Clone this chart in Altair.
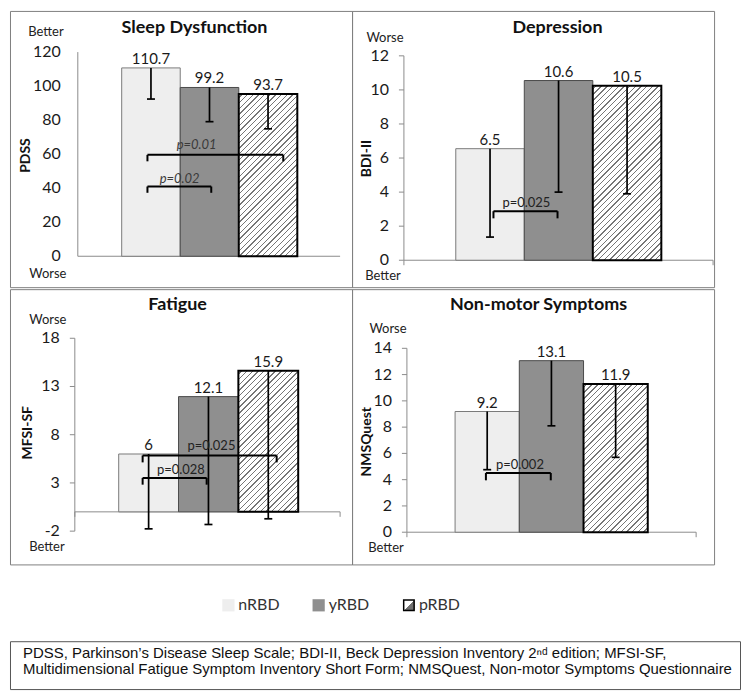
import altair as alt
import pandas as pd

# ---------------- data ----------------
groups = ["nRBD", "yRBD", "pRBD"]
bar_pos = [1, 2, 3]

sleep_mean = [110.7, 99.2, 95.3]
sleep_text = ["110.7", "99.2", "93.7"]
sleep_low = [92.4, 79.1, 74.9]
sleep_ticks = [0, 20, 40, 60, 80, 100, 120]

dep_mean = [6.55, 10.55, 10.25]
dep_text = ["6.5", "10.6", "10.5"]
dep_low = [1.36, 4.0, 3.9]
dep_ticks = [0, 2, 4, 6, 8, 10, 12]

fat_mean = [6.0, 11.95, 14.64]
fat_text = ["6", "12.1", "15.9"]
fat_low = [-1.76, -1.31, -0.72]
fat_ticks = [-2, 3, 8, 13, 18]

nms_mean = [9.19, 13.06, 11.29]
nms_text = ["9.2", "13.1", "11.9"]
nms_low = [4.76, 8.1, 5.7]
nms_ticks = [0, 2, 4, 6, 8, 10, 12, 14]

# p-value brackets (x from, x to, level, drop, label, label x, label y)
sleep_br = dict(x1=[0.94, 0.94], x2=[3.26, 2.03], y=[59.6, 41.0], yd=[55.8, 37.3],
                lab=["p=0.01", "p=0.02"], lx=[1.78, 1.49], ly=[65.2, 45.3])
dep_br = dict(x1=[1.05], x2=[1.985], y=[2.88], yd=[2.46],
              lab=["p=0.025"], lx=[1.53], ly=[3.34])
fat_br = dict(x1=[0.9, 0.9], x2=[3.14, 1.97], y=[5.85, 3.52], yd=[5.13, 2.82],
              lab=["p=0.025", "p=0.028"], lx=[2.05, 1.54], ly=[6.78, 4.37])
nms_br = dict(x1=[0.98], x2=[1.99], y=[4.51], yd=[3.95],
              lab=["p=0.002"], lx=[1.51], ly=[5.14])

caption_1 = "PDSS, Parkinson\u2019s Disease Sleep Scale; BDI-II, Beck Depression Inventory 2\u207f\u1d48 edition; MFSI-SF,"
caption_2 = "Multidimensional Fatigue Symptom Inventory Short Form; NMSQuest, Non-motor Symptoms Questionnaire"

# ---------------- style / layout ----------------
FONT = "Lato"
AXIS = "#8c8c8c"
BORDER = "#808080"
INK = "#111111"

layouts = {
    "sleep": dict(w=343, h=277, axis=68, left1=112, bw=58.7, axis_end=331, y0=246, ypu=1.706,
                  title=(185, 17), ytitle=(16, 145), top=(36, 21), bot=(38, 264),
                  ticks_on=False, lgap=17, end_ticks=False, italic=True),
    "dep": dict(w=363, h=277, axis=52, left1=104, bw=68.7, axis_end=362, y0=250, ypu=17.08,
                title=(206, 17), ytitle=(15, 148), top=(33, 27), bot=(31, 266),
                ticks_on=True, lgap=15, end_ticks=True, italic=False),
    "fat": dict(w=343, h=276, axis=65, left1=109, bw=60.0, axis_end=331, y0=223.3, ypu=9.67,
                title=(168, 16), ytitle=(18, 144), top=(38, 31), bot=(37, 259),
                ticks_on=True, lgap=15, end_ticks=True, italic=False),
    "nms": dict(w=363, h=276, axis=55, left1=103.3, bw=64.4, axis_end=345, y0=243.7, ypu=13.17,
                title=(187, 16), ytitle=(15, 153), top=(36, 40), bot=(34, 260),
                ticks_on=True, lgap=15, end_ticks=True, italic=False),
}

ANN = pd.DataFrame({"a": [0]})


def hatch(w, h, period=5.7, thick=1.35, ink="#767676", paper="#ffffff"):
    L = w + h
    stops = [{"offset": 0.0, "color": paper}]
    s = period / 2.0
    while s + thick < L:
        a = round(s / L, 5)
        b = round((s + thick) / L, 5)
        stops += [{"offset": a, "color": paper}, {"offset": a, "color": ink},
                  {"offset": b, "color": ink}, {"offset": b, "color": paper}]
        s += period
    stops.append({"offset": 1.0, "color": paper})
    k = L / (w * w + h * h)
    return {"gradient": "linear", "x1": 0, "y1": 0, "x2": round(k * w, 5),
            "y2": round(k * h, 5), "stops": stops}


def text_at(txt, xy, size, weight="normal", angle=0, color=INK):
    kw = dict(font=FONT, fontSize=size, fontWeight=weight, color=color,
              align="center", baseline="middle")
    if angle:
        kw["angle"] = angle
    return alt.Chart(ANN).mark_text(**kw).encode(
        x=alt.value(xy[0]), y=alt.value(xy[1]), text=alt.value(txt))


def panel(title, ytitle, top_word, bot_word, mean, text, low, ticks, br, lay):
    W, H, bw, ypu = lay["w"], lay["h"], lay["bw"], lay["ypu"]
    x0 = lay["left1"] - 0.5 * bw
    xs = alt.Scale(domain=[-x0 / bw, (W - x0) / bw], nice=False, zero=False)
    ys = alt.Scale(domain=[-(H - lay["y0"]) / ypu, lay["y0"] / ypu], nice=False, zero=False)
    ax = (lay["axis"] - x0) / bw
    ax_end = (lay["axis_end"] - x0) / bw

    def X(f):
        return alt.X(f"{f}:Q", scale=xs, axis=None)

    def Y(f):
        return alt.Y(f"{f}:Q", scale=ys, axis=None)

    bars = pd.DataFrame({"g": groups, "x": bar_pos, "v": mean, "t": text, "lo": low})
    bars["xl"] = bars["x"] - 0.5
    bars["xr"] = bars["x"] + 0.5
    bars["zero"] = 0.0
    cap = 4.0 / bw
    bars["cl"] = bars["x"] - cap
    bars["cr"] = bars["x"] + cap

    tk = pd.DataFrame({"tick": ticks, "lab": [str(t) for t in ticks]})
    tk["x"] = ax
    tk["xt"] = ax - 5.0 / bw

    xline = pd.DataFrame({"x": [ax], "xe": [ax_end], "y": [0.0]})
    yline = pd.DataFrame({"x": [ax], "y": [float(min(ticks))], "ye": [float(max(ticks))]})
    eticks = pd.DataFrame({"x": [ax, ax_end], "y": [0.0, 0.0], "ye": [-5.0 / ypu, -5.0 / ypu]})

    layers = []
    layers.append(alt.Chart(yline).mark_rule(color=AXIS, strokeWidth=1).encode(
        x=X("x"), y=Y("y"), y2=alt.Y2("ye")))
    layers.append(alt.Chart(xline).mark_rule(color=AXIS, strokeWidth=1).encode(
        x=X("x"), x2=alt.X2("xe"), y=Y("y")))
    if lay["ticks_on"]:
        layers.append(alt.Chart(tk).mark_rule(color=AXIS, strokeWidth=1).encode(
            x=X("xt"), x2=alt.X2("x"), y=Y("tick")))
    if lay["end_ticks"]:
        layers.append(alt.Chart(eticks).mark_rule(color=AXIS, strokeWidth=1).encode(
            x=X("x"), y=Y("y"), y2=alt.Y2("ye")))
    layers.append(alt.Chart(tk).mark_text(
        font=FONT, fontSize=16, color="#1a1a1a", align="right", baseline="middle",
        dx=-lay["lgap"]).encode(x=X("x"), y=Y("tick"), text="lab:N"))

    styles = [dict(fill="#eeeeee", stroke="#7a7a7a", strokeWidth=1),
              dict(fill="#8f8f8f", stroke="#4a4a4a", strokeWidth=1),
              dict(fill=hatch(bw, mean[2] * ypu), stroke="#000000", strokeWidth=2)]
    for i, st in enumerate(styles):
        layers.append(alt.Chart(bars.iloc[[i]]).mark_rect(**st).encode(
            x=X("xl"), x2=alt.X2("xr"), y=Y("v"), y2=alt.Y2("zero")))

    layers.append(alt.Chart(bars).mark_rule(color="#000000", strokeWidth=1.7).encode(
        x=X("x"), y=Y("v"), y2=alt.Y2("lo")))
    layers.append(alt.Chart(bars).mark_rule(color="#000000", strokeWidth=1.7).encode(
        x=X("cl"), x2=alt.X2("cr"), y=Y("lo")))
    layers.append(alt.Chart(bars).mark_text(font=FONT, fontSize=15, color="#1a1a1a",
                                            baseline="bottom", dy=-1).encode(
        x=X("x"), y=Y("v"), text="t:N"))

    bdf = pd.DataFrame(br)
    layers.append(alt.Chart(bdf).mark_rule(color="#000000", strokeWidth=2).encode(
        x=X("x1"), x2=alt.X2("x2"), y=Y("y")))
    layers.append(alt.Chart(bdf).mark_rule(color="#000000", strokeWidth=2).encode(
        x=X("x1"), y=Y("y"), y2=alt.Y2("yd")))
    layers.append(alt.Chart(bdf).mark_rule(color="#000000", strokeWidth=2).encode(
        x=X("x2"), y=Y("y"), y2=alt.Y2("yd")))
    layers.append(alt.Chart(bdf).mark_text(
        font=FONT, fontSize=13, color="#3a3a3a" if lay["italic"] else "#222222",
        fontStyle="italic" if lay["italic"] else "normal").encode(
        x=X("lx"), y=Y("ly"), text="lab:N"))

    layers.append(text_at(title, lay["title"], 18, weight="bold"))
    layers.append(text_at(ytitle, lay["ytitle"], 14, weight="bold", angle=270))
    layers.append(text_at(top_word, lay["top"], 13, color="#222222"))
    layers.append(text_at(bot_word, lay["bot"], 13, color="#222222"))

    return alt.layer(*layers).properties(
        width=W, height=H, view=alt.ViewBackground(stroke=BORDER, strokeWidth=1))


tl = panel("Sleep Dysfunction", "PDSS", "Better", "Worse",
           sleep_mean, sleep_text, sleep_low, sleep_ticks, sleep_br, layouts["sleep"])
tr = panel("Depression", "BDI-II", "Worse", "Better",
           dep_mean, dep_text, dep_low, dep_ticks, dep_br, layouts["dep"])
bl = panel("Fatigue", "MFSI-SF", "Worse", "Better",
           fat_mean, fat_text, fat_low, fat_ticks, fat_br, layouts["fat"])
br_ = panel("Non-motor Symptoms", "NMSQuest", "Worse", "Better",
            nms_mean, nms_text, nms_low, nms_ticks, nms_br, layouts["nms"])

# ---------------- legend ----------------
leg = pd.DataFrame({"g": groups})
lx = alt.X("g:N", scale=alt.Scale(type="point", domain=groups, range=[219, 400], padding=0), axis=None)
legend_fill = {"nRBD": "#eeeeee", "yRBD": "#8f8f8f"}
leg_layers = []
for g in ["nRBD", "yRBD"]:
    leg_layers.append(alt.Chart(leg[leg.g == g]).mark_square(
        size=150, fill=legend_fill[g], opacity=1, strokeWidth=0).encode(x=lx, y=alt.value(39)))
leg_layers.append(alt.Chart(leg[leg.g == "pRBD"]).mark_square(
    size=110, opacity=1, stroke="#000000", strokeWidth=1.5,
    fill={"gradient": "linear", "x1": 0, "y1": 0, "x2": 1, "y2": 1,
          "stops": [{"offset": 0, "color": "#ffffff"}, {"offset": 0.5, "color": "#ffffff"},
                    {"offset": 0.5, "color": "#707070"}, {"offset": 1, "color": "#707070"}]}
).encode(x=lx, y=alt.value(39)))
leg_layers.append(alt.Chart(leg).mark_text(
    font=FONT, fontSize=16, color="#333333", align="left", baseline="middle", dx=10).encode(
    x=lx, y=alt.value(39), text="g:N"))
legend = alt.layer(*leg_layers).properties(
    width=732, height=73, view=alt.ViewBackground(stroke="transparent"))

# ---------------- caption ----------------
cap_layers = []
for txt, yy in [(caption_1, 12), (caption_2, 28)]:
    cap_layers.append(alt.Chart(ANN).mark_text(
        font="Liberation Sans", fontSize=15, color="#111111", align="left",
        baseline="middle").encode(x=alt.value(13), y=alt.value(yy), text=alt.value(txt)))
caption = alt.layer(*cap_layers).properties(
    width=732, height=48, view=alt.ViewBackground(stroke="#555555", strokeWidth=1))

top = alt.hconcat(tl, tr, spacing=0, bounds="flush")
bottom = alt.hconcat(bl, br_, spacing=0, bounds="flush")
chart = alt.vconcat(top, bottom, legend, caption, spacing=0).properties(
    padding=1).configure(background="white")

chart.save("out.html", embed_options={"renderer": "svg", "actions": False})
